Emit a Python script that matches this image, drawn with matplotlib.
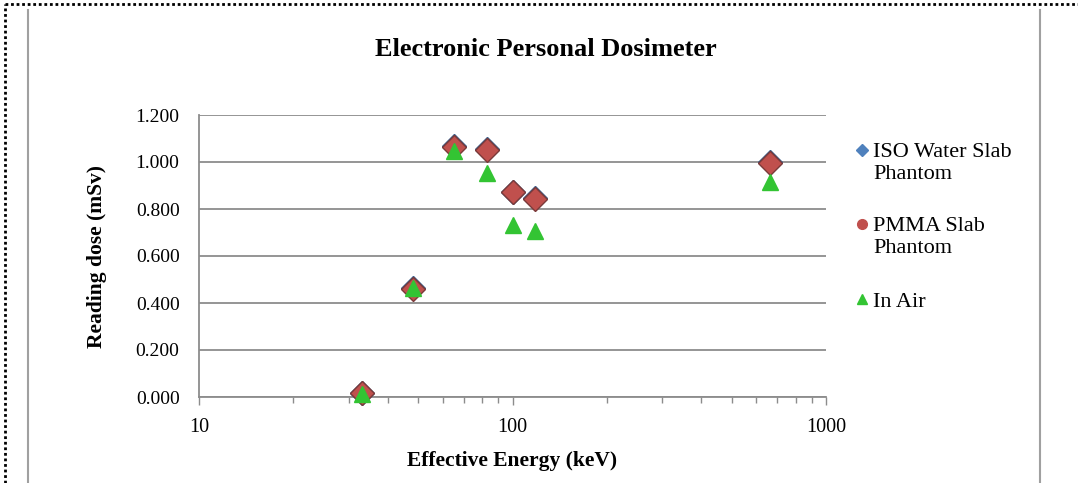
import numpy as np
import matplotlib.pyplot as plt
from matplotlib.lines import Line2D
from matplotlib.ticker import LogLocator, FixedLocator, FormatStrFormatter

plt.rcParams['font.family'] = ['Liberation Serif', 'DejaVu Serif']

# Effective energy (keV) and reading dose (mSv)
energy = [33, 48, 65, 83, 100, 118, 662]
iso_water = [0.016, 0.462, 1.068, 1.055, 0.873, 0.846, 0.998]
pmma = [0.016, 0.458, 1.063, 1.051, 0.871, 0.843, 0.997]
in_air = [0.012, 0.462, 1.045, 0.955, 0.730, 0.708, 0.915]

series_names = ['ISO Water Slab\nPhantom', 'PMMA Slab\nPhantom', 'In Air']
y_ticks = [0.0, 0.2, 0.4, 0.6, 0.8, 1.0, 1.2]

blue = '#4F81BD'
red = '#C0504D'
green = '#33C433'

fig = plt.figure(figsize=(10.78, 4.83), dpi=100)
ax = fig.add_axes([199 / 1078, 1 - 397 / 483, 627 / 1078, 282 / 483])

ax.plot(energy, iso_water, 'D', ms=12, color=blue, mec='#3A5F8C', mew=1, clip_on=False, zorder=3)
ax.plot(energy, pmma, 'D', ms=12, color=red, mec='#7A3A3A', mew=1, clip_on=False, zorder=4)
ax.plot(energy, in_air, '^', ms=11, color=green, mec=green, clip_on=False, zorder=5)

ax.set_xscale('log')
ax.set_xlim(10, 1000)
ax.set_ylim(0, 1.2)
ax.set_yticks(y_ticks)
ax.yaxis.set_major_formatter(FormatStrFormatter('%.3f'))
ax.xaxis.set_major_locator(FixedLocator([10, 100, 1000]))
ax.xaxis.set_major_formatter(FormatStrFormatter('%d'))
ax.xaxis.set_minor_locator(LogLocator(base=10, subs=np.arange(2, 10)))
ax.xaxis.set_minor_formatter(plt.NullFormatter())

ax.grid(axis='y', color='#8c8c8c', lw=1.3)
ax.set_axisbelow(True)
for s in ['top', 'right']:
    ax.spines[s].set_visible(False)
for s in ['left', 'bottom']:
    ax.spines[s].set_color('#8c8c8c')
    ax.spines[s].set_linewidth(1.3)
ax.tick_params(axis='y', length=0, labelsize=14, pad=14)
ax.tick_params(axis='x', which='major', color='#8c8c8c', length=6, width=1,
               labelsize=14.5, pad=9)
ax.tick_params(axis='x', which='minor', color='#8c8c8c', length=4, width=1)

fig.text(546 / 1078, 1 - 50 / 483, 'Electronic Personal Dosimeter', fontsize=19,
         fontweight='bold', ha='center', va='center')
ax.set_xlabel('Effective Energy (keV)', fontsize=15.5, fontweight='bold')
ax.xaxis.set_label_coords(0.5, -0.193)
ax.set_ylabel('Reading dose (mSv)', fontsize=15.5, fontweight='bold')
ax.yaxis.set_label_coords(-0.147, 0.5)

handles = [
    Line2D([], [], marker='D', ls='none', ms=6, color=blue),
    Line2D([], [], marker='o', ls='none', ms=7, color=red),
    Line2D([], [], marker='^', ls='none', ms=7, color=green),
]
leg = ax.legend(handles, series_names, loc='upper left', bbox_to_anchor=(1.049, 0.9),
                frameon=False, fontsize=16, handlelength=0.5, handletextpad=0.25,
                labelspacing=1.5, borderaxespad=0, borderpad=0)
# put the marker next to the first line of two-line labels
for h, name in zip(leg.legend_handles, series_names):
    if '\n' in name:
        h.set_ydata(np.asarray(h.get_ydata()) + 9.5)

# page frame
fig.add_artist(Line2D([28 / 1078, 28 / 1078], [0, 1 - 10 / 483], transform=fig.transFigure,
                      color='#a0a0a0', lw=1.5))
fig.add_artist(Line2D([1040 / 1078, 1040 / 1078], [0, 1 - 10 / 483], transform=fig.transFigure,
                      color='#a0a0a0', lw=1.5))
fig.add_artist(Line2D([5 / 1078, 1], [1 - 4 / 483, 1 - 4 / 483], transform=fig.transFigure,
                      color='black', lw=2, ls=(0, (1, 1))))
fig.add_artist(Line2D([5 / 1078, 5 / 1078], [0, 1 - 4 / 483], transform=fig.transFigure,
                      color='black', lw=2, ls=(0, (1, 1))))

fig.savefig('out.png', dpi=100)
